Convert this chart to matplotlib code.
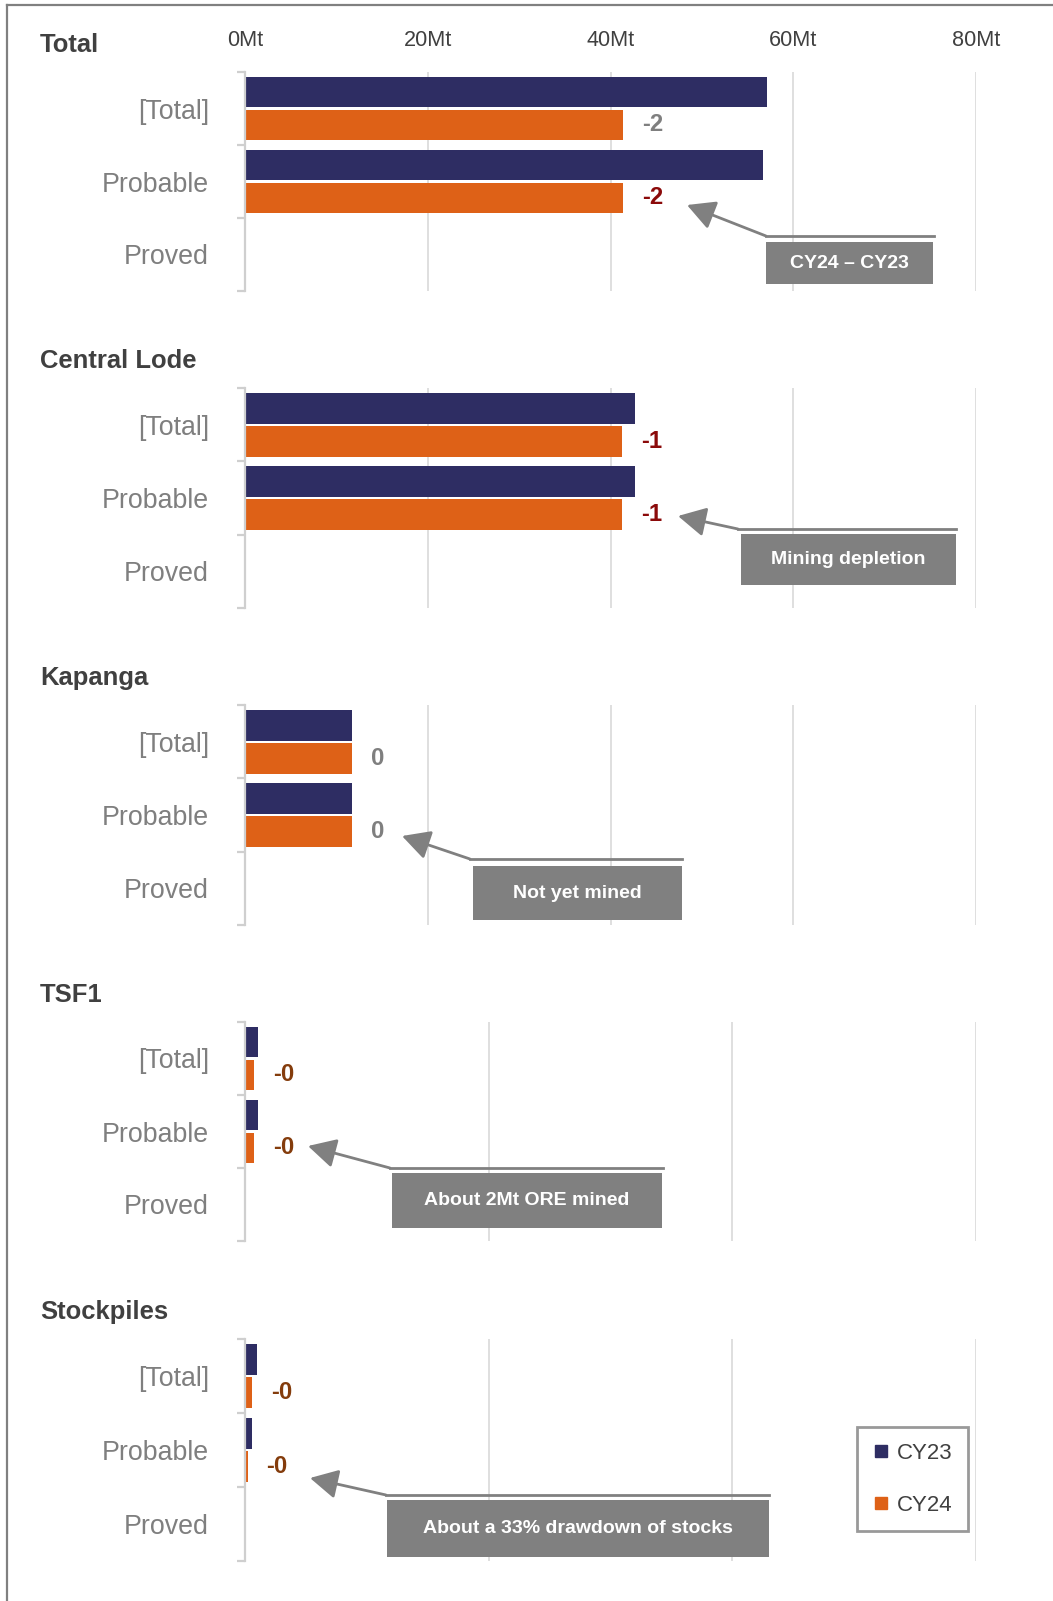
import numpy as np
import matplotlib
matplotlib.use('Agg')
import matplotlib.pyplot as plt
from matplotlib import font_manager as fm
from matplotlib.lines import Line2D
from matplotlib.patches import Rectangle

# Data (Mt)
panels = ['Total', 'Central Lode', 'Kapanga', 'TSF1', 'Stockpiles']
categories = ['[Total]', 'Probable', 'Proved']

total_cy23 = [57.1, 56.7, 0]
total_cy24 = [41.4, 41.4, 0]
central_cy23 = [42.7, 42.7, 0]
central_cy24 = [41.3, 41.3, 0]
kapanga_cy23 = [11.7, 11.7, 0]
kapanga_cy24 = [11.7, 11.7, 0]
tsf1_cy23 = [1.04, 1.04, 0]
tsf1_cy24 = [0.74, 0.74, 0]
stock_cy23 = [0.95, 0.60, 0.12]
stock_cy24 = [0.60, 0.21, 0]

diff_labels = [['-2', '-2'], ['-1', '-1'], ['0', '0'], ['-0', '-0'], ['-0', '-0']]
x_ticks_main = [0, 20, 40, 60, 80]
x_ticks_small = [0, 20, 40, 60]
tick_labels = ['0Mt', '20Mt', '40Mt', '60Mt', '80Mt']
notes = ['CY24 \u2013 CY23', 'Mining depletion', 'Not yet mined',
         'About 2Mt ORE mined', 'About a 33% drawdown of stocks']

cy23 = [total_cy23, central_cy23, kapanga_cy23, tsf1_cy23, stock_cy23]
cy24 = [total_cy24, central_cy24, kapanga_cy24, tsf1_cy24, stock_cy24]
xticks = [x_ticks_main, x_ticks_main, x_ticks_main, x_ticks_small, x_ticks_small]

# styling
navy = '#2e2d63'
orange = '#de6117'
grey_txt = '#7f7f7f'
dark_txt = '#404040'
box_grey = '#808080'
label_cols = [['#7f7f7f', '#8b0a0a'], ['#8b0a0a', '#8b0a0a'], ['#7f7f7f', '#7f7f7f'],
              ['#843c0c', '#843c0c'], ['#843c0c', '#843c0c']]


def has_font(name):
    try:
        fm.findfont(fm.FontProperties(family=name), fallback_to_default=False)
        return True
    except Exception:
        return False


narrow = 'Liberation Sans Narrow' if has_font('Liberation Sans Narrow') else 'Liberation Sans'
k = 1.0 if narrow == 'Liberation Sans Narrow' else 0.82
plain = 'Liberation Sans'

W, H = 1053, 1601
fig = plt.figure(figsize=(W / 100, H / 100), dpi=100)

# layout in pixels
ax_left, ax_right = 245, 976
tops = [72, 388, 705, 1022, 1339]
heights = [219, 220, 220, 219, 222]
bar_h = 0.42
off = 0.225

for i, name in enumerate(panels):
    top = tops[i]
    ax = fig.add_axes([ax_left / W, 1 - (top + heights[i]) / H,
                       (ax_right - ax_left) / W, heights[i] / H])
    y = np.arange(len(categories))
    ax.barh(y - off, cy23[i], height=bar_h, color=navy, zorder=3)
    ax.barh(y + off, cy24[i], height=bar_h, color=orange, zorder=3)
    ax.set_ylim(2.5, -0.5)
    ax.set_xlim(xticks[i][0], xticks[i][-1])
    ax.set_xticks(xticks[i])
    ax.grid(axis='x', color='#dcdcdc', lw=1.3, zorder=0)
    for s in ['top', 'right', 'bottom']:
        ax.spines[s].set_visible(False)
    ax.spines['left'].set_color('#cfcfcf')
    ax.spines['left'].set_linewidth(1.6)
    ax.spines['left'].set_zorder(4)
    ax.set_yticks(y)
    ax.set_yticklabels(categories, fontsize=23.5 * k, color=grey_txt, family=narrow)
    ax.tick_params(axis='y', which='major', length=0, pad=26)
    ax.set_yticks([-0.5, 0.5, 1.5, 2.5], minor=True)
    ax.tick_params(axis='y', which='minor', length=6, width=1.6, color='#cfcfcf')
    if i == 0:
        ax.xaxis.tick_top()
        ax.set_xticklabels(tick_labels, fontsize=19 * k, color=dark_txt, family=narrow)
        ax.tick_params(axis='x', length=0, pad=15)
    else:
        ax.tick_params(axis='x', length=0, labeltop=False, labelbottom=False)

    # difference labels next to the CY24 bars
    for j in range(2):
        ax.annotate(diff_labels[i][j], xy=(cy24[i][j], j + off), xytext=(19, 0),
                    textcoords='offset pixels', va='center', ha='left',
                    fontsize=21 * k, fontweight='bold', color=label_cols[i][j],
                    family=narrow, zorder=5)

    fig.text(40 / W, 1 - (top - 27) / H, name, fontsize=22.5 * k, fontweight='bold',
             color=dark_txt, family=narrow, va='center', ha='left')

# callouts: arrow tip, bend, end of line, box (x0, x1, y0, y1) in pixels
tips = [(687, 205), (678, 516), (402, 836), (308, 1146), (310, 1478)]
bends = [(766, 236), (738, 529), (470, 859), (390, 1168), (386, 1495)]
ends = [934, 956, 682, 663, 769]
boxes = [(766, 933, 242, 284), (741, 956, 534, 585), (473, 682, 866, 920),
         (392, 662, 1173, 1228), (387, 769, 1500, 1557)]

for n in range(len(notes)):
    bx, by = bends[n]
    fig.add_artist(Line2D([bx / W, ends[n] / W], [1 - by / H, 1 - by / H],
                          transform=fig.transFigure, color=box_grey, lw=2.0))
    tx, ty = tips[n]
    fig.add_artist(matplotlib.patches.FancyArrowPatch(
        (bx / W, 1 - by / H), (tx / W, 1 - ty / H), transform=fig.transFigure,
        arrowstyle='-|>,head_length=0.85,head_width=0.45', mutation_scale=20,
        color=box_grey, lw=2.0, shrinkA=0, shrinkB=0))
    x0, x1, y0, y1 = boxes[n]
    fig.add_artist(Rectangle((x0 / W, 1 - y1 / H), (x1 - x0) / W, (y1 - y0) / H,
                             transform=fig.transFigure, facecolor=box_grey,
                             edgecolor='none'))
    fig.text((x0 + x1) / 2 / W, 1 - (y0 + y1) / 2 / H, notes[n], fontsize=14,
             fontweight='bold', color='white', family=plain, ha='center', va='center')

# legend
handles = [Line2D([], [], marker='s', ls='', color=navy, markersize=9),
           Line2D([], [], marker='s', ls='', color=orange, markersize=9)]
leg = fig.legend(handles, ['CY23', 'CY24'], loc='upper left',
                 bbox_to_anchor=(857 / W, 1 - 1427 / H), frameon=True, fancybox=False,
                 prop={'family': plain, 'size': 16}, labelcolor=dark_txt,
                 handlelength=0.8, handletextpad=0.3, labelspacing=1.4,
                 borderpad=0.7, borderaxespad=0)
leg.get_frame().set_edgecolor(box_grey)
leg.get_frame().set_linewidth(2.0)

# outer frame lines (top and left)
fig.add_artist(Line2D([7 / W, 1], [1 - 5 / H, 1 - 5 / H], transform=fig.transFigure,
                      color=box_grey, lw=1.6))
fig.add_artist(Line2D([7 / W, 7 / W], [0, 1 - 5 / H], transform=fig.transFigure,
                      color=box_grey, lw=1.6))

fig.savefig('out.png', dpi=100)
